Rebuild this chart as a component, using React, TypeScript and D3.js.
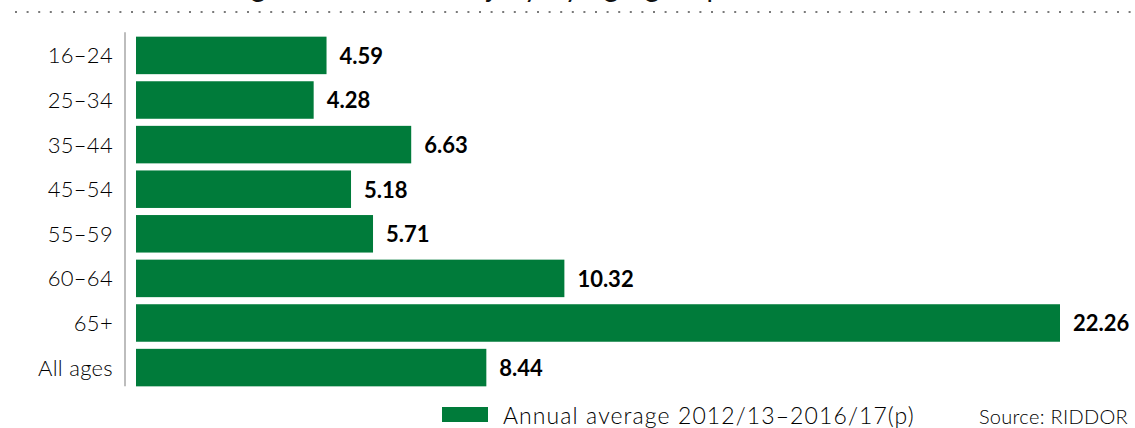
import React from "react";
import * as d3 from "d3";

const categories = ["16–24", "25–34", "35–44", "45–54", "55–59", "60–64", "65+", "All ages"];
const values = [4.59, 4.28, 6.63, 5.18, 5.71, 10.32, 22.26, 8.44];
const valueLabels = ["4.59", "4.28", "6.63", "5.18", "5.71", "10.32", "22.26", "8.44"];
const seriesName = "Annual average 2012/13–2016/17(p)";
const sourceText = "Source: RIDDOR";
const titleText = "Average rate of fatal injury by age group";

const W = 1135;
const H = 428;
const GREEN = "#007b3a";
const FONT = "Lato, 'Noto Sans', sans-serif";

export default function App() {
  const x = d3.scaleLinear().domain([0, 22.26]).range([136, 1060]);
  const y = d3
    .scaleBand<string>()
    .domain(categories)
    .range([32.2, 390.8])
    .paddingInner(0.159)
    .paddingOuter(0.1);
  const bw = y.bandwidth();
  const axisTop = y.range()[0];
  const axisBottom = (y(categories[categories.length - 1]) ?? 0) + bw;

  return (
    <svg
      width={W}
      height={H}
      style={{ position: "absolute", left: 0, top: 0, background: "#fff" }}
      fontFamily={FONT}
    >
      <text x={173} y={-3} fontSize={28} letterSpacing={1.5} fill="#111">
        {titleText}
      </text>
      <line
        x1={15}
        x2={1133}
        y1={12}
        y2={12}
        stroke="#7a7a7a"
        strokeWidth={2}
        strokeDasharray="2 9.6"
      />
      <line x1={125} x2={125} y1={axisTop} y2={axisBottom} stroke="#bdbdbd" strokeWidth={2} />
      {categories.map((c, i) => {
        const yy = y(c) ?? 0;
        return (
          <g key={c}>
            <rect x={x(0)} y={yy} width={x(values[i]) - x(0)} height={bw} fill={GREEN} />
            <text
              x={113}
              y={yy + bw / 2}
              dy="0.36em"
              textAnchor="end"
              fontSize={22}
              fontWeight={300}
              letterSpacing={0.3}
              fill="#000"
            >
              {c}
            </text>
            <text
              x={x(values[i]) + 13}
              y={yy + bw / 2}
              dy="0.38em"
              fontSize={22}
              fontWeight={700}
              fill="#000"
            >
              {valueLabels[i]}
            </text>
          </g>
        );
      })}
      <rect x={442} y={407} width={46} height={15} fill={GREEN} />
      <text x={503} y={424} fontSize={23} fontWeight={300} letterSpacing={1.1} fill="#000">
        {seriesName}
      </text>
      <text x={1128} y={424} textAnchor="end" fontSize={20} fontWeight={300} letterSpacing={0.3} fill="#000">
        {sourceText}
      </text>
    </svg>
  );
}
